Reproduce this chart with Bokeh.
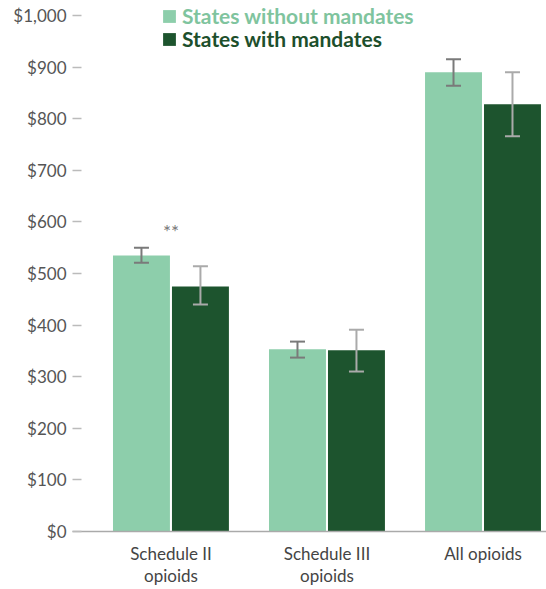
from bokeh.plotting import figure
from bokeh.models import (ColumnDataSource, Whisker, TeeHead, Legend, LegendItem,
                          FixedTicker, NumeralTickFormatter, Range1d)
from bokeh.core.properties import value
from bokeh.embed import file_html
from bokeh.resources import INLINE

categories = ["Schedule II\nopioids", "Schedule III\nopioids", "All opioids"]
without_vals = [535, 353, 890]
without_lo = [521, 337, 864]
without_hi = [550, 368, 915]
with_vals = [475, 351, 828]
with_lo = [440, 310, 766]
with_hi = [514, 391, 890]
sig_labels = ["**", "", ""]
series_names = ["States without mandates", "States with mandates"]
y_ticks = [0, 100, 200, 300, 400, 500, 600, 700, 800, 900, 1000]

LIGHT = "#8dceab"
DARK = "#1d542e"
FONT = "Lato"

pos = list(range(len(categories)))
off = 0.189
bw = 0.365

src_wo = ColumnDataSource(dict(x=[p - off for p in pos], top=without_vals,
                               lo=without_lo, hi=without_hi))
src_w = ColumnDataSource(dict(x=[p + off for p in pos], top=with_vals,
                              lo=with_lo, hi=with_hi))
src_sig = ColumnDataSource(dict(x=pos, y=[h + 32 for h in without_hi], t=sig_labels))

p = figure(width=546, height=589, output_backend="svg", toolbar_location=None,
           x_range=Range1d(-0.631, 2.407), y_range=Range1d(0, 1029),
           min_border_left=72, min_border_right=0, min_border_top=0,
           min_border_bottom=58)
p.outline_line_color = None
p.grid.visible = False
p.background_fill_color = "white"
p.border_fill_color = "white"

r_wo = p.vbar(x="x", top="top", width=bw, source=src_wo, fill_color=LIGHT, line_color=None)
r_w = p.vbar(x="x", top="top", width=bw, source=src_w, fill_color=DARK, line_color=None)

for src, col in ((src_wo, "#7a7a7a"), (src_w, "#aaaaaa")):
    wk = Whisker(base="x", lower="lo", upper="hi", source=src,
                 line_color=col, line_width=2, level="overlay",
                 upper_head=TeeHead(size=15, line_color=col, line_width=2),
                 lower_head=TeeHead(size=15, line_color=col, line_width=2))
    p.add_layout(wk)

p.text(x="x", y="y", text="t", source=src_sig, text_align="center",
       text_baseline="middle", text_font=value(FONT), text_font_size="19px",
       text_color="#777777")

# axes
p.xaxis.ticker = FixedTicker(ticks=pos)
p.xaxis.major_label_overrides = {i: c for i, c in enumerate(categories)}
p.xaxis.major_tick_line_color = None
p.xaxis.minor_tick_line_color = None
p.xaxis.axis_line_color = "#aaaaaa"
p.xaxis.axis_line_width = 1.5
p.xaxis.major_label_text_font = FONT
p.xaxis.major_label_text_font_size = "17px"
p.xaxis.major_label_text_color = "#444444"
p.xaxis.major_label_text_line_height = 1.05
p.xaxis.major_label_standoff = 5

p.yaxis.ticker = FixedTicker(ticks=y_ticks)
p.yaxis.formatter = NumeralTickFormatter(format="$0,0")
p.yaxis.axis_line_color = None
p.yaxis.major_tick_in = 9
p.yaxis.major_tick_out = 0
p.yaxis.major_tick_line_color = "#bbbbbb"
p.yaxis.major_tick_line_width = 1.5
p.yaxis.minor_tick_line_color = None
p.yaxis.major_label_text_font = FONT
p.yaxis.major_label_text_font_size = "17px"
p.yaxis.major_label_text_color = "#555555"
p.yaxis.major_label_standoff = 6

# legends (one per series so each label keeps its own colour)
for r, name, loc, tcol in ((r_wo, series_names[0], (89, 503), "#7fc49e"),
                           (r_w, series_names[1], (89, 480), "#1d4f2c")):
    lg = Legend(items=[LegendItem(label=name, renderers=[r])], location=loc,
                glyph_width=16, glyph_height=16, label_height=16,
                label_standoff=5, padding=0, margin=0, spacing=0,
                border_line_color=None, background_fill_alpha=0,
                label_text_font=FONT, label_text_font_style="bold",
                label_text_font_size="21px", label_text_color=tcol)
    p.add_layout(lg)

open("out.html", "w").write(file_html(p, INLINE))
